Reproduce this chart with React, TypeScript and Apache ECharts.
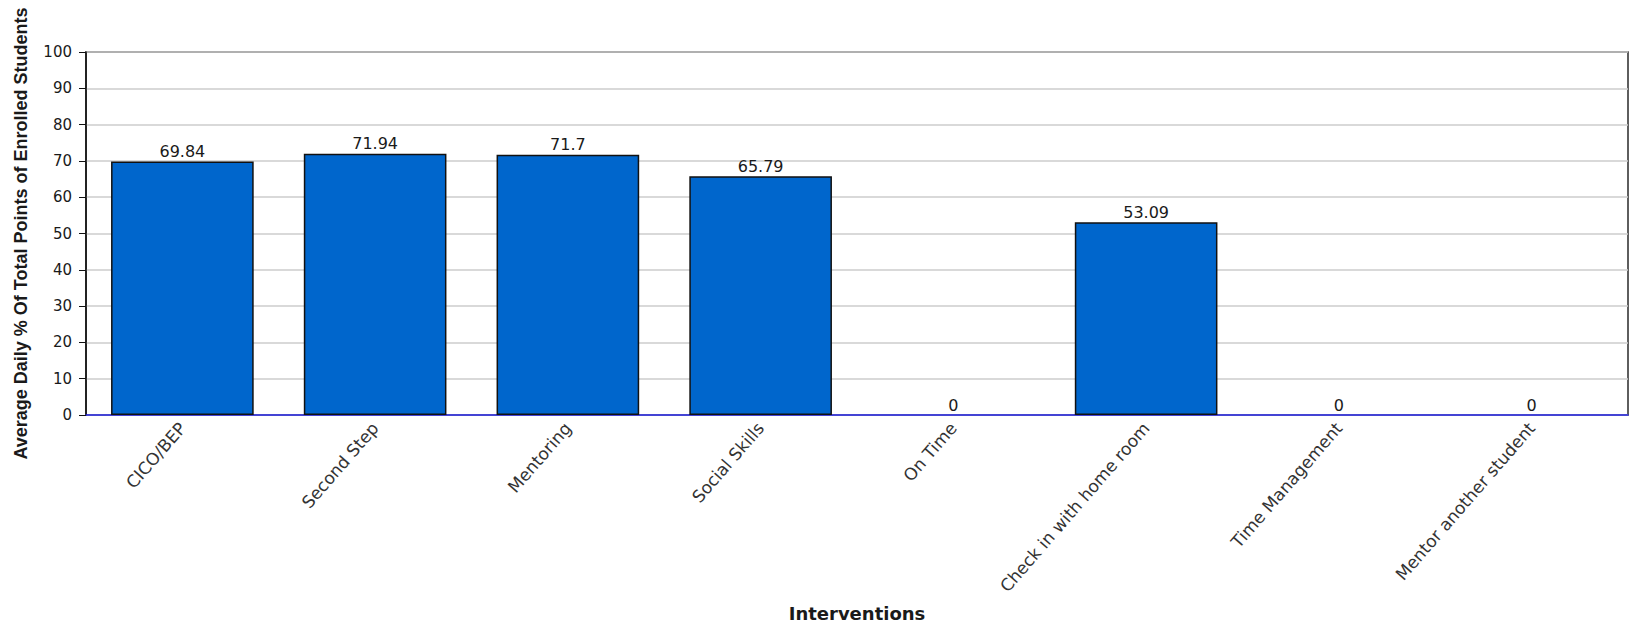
import React, { useEffect, useRef } from "react";
import * as echarts from "echarts";

const categories = [
  "CICO/BEP",
  "Second Step",
  "Mentoring",
  "Social Skills",
  "On Time",
  "Check in with home room",
  "Time Management",
  "Mentor another student",
];
const averages = [69.84, 71.94, 71.7, 65.79, 0, 53.09, 0, 0];
const yTicks = [0, 10, 20, 30, 40, 50, 60, 70, 80, 90, 100];

const yTitle = "Average Daily % Of Total Points of Enrolled Students";
const xTitle = "Interventions";

export default function App() {
  const ref = useRef<HTMLDivElement>(null);

  useEffect(() => {
    if (!ref.current) return;
    const chart = echarts.init(ref.current, undefined, { renderer: "svg" });
    chart.setOption({
      animation: false,
      backgroundColor: "#ffffff",
      grid: {
        left: 86,
        top: 52,
        right: 5,
        bottom: 210,
        show: true,
        borderColor: "#2a2a2a",
        borderWidth: 1.5,
      },
      xAxis: {
        type: "category",
        data: categories,
        name: xTitle,
        nameLocation: "middle",
        nameGap: 189,
        nameTextStyle: {
          fontFamily: "DejaVu Sans",
          fontWeight: "bold",
          fontSize: 18,
          color: "#1a1a1a",
        },
        axisLine: { lineStyle: { color: "#2020e0", width: 1.5 } },
        axisTick: {
          alignWithLabel: true,
          length: 5,
          lineStyle: { color: "#2020e0", width: 1.5 },
        },
        axisLabel: {
          rotate: 49,
          margin: 10,
          interval: 0,
          fontFamily: "DejaVu Sans",
          fontSize: 17,
          color: "#333333",
        },
      },
      yAxis: {
        type: "value",
        min: yTicks[0],
        max: yTicks[yTicks.length - 1],
        interval: yTicks[1] - yTicks[0],
        name: yTitle,
        nameLocation: "middle",
        nameRotate: 90,
        nameGap: 56,
        nameTextStyle: {
          fontFamily: "Liberation Sans",
          fontWeight: "bold",
          fontSize: 18,
          color: "#1a1a1a",
        },
        axisLine: { show: true, lineStyle: { color: "#111111", width: 1.5 } },
        axisTick: { show: true, length: 7, lineStyle: { color: "#111111", width: 1 } },
        axisLabel: {
          margin: 14,
          fontFamily: "DejaVu Sans",
          fontSize: 15,
          color: "#1a1a1a",
        },
        splitLine: { lineStyle: { color: "#cccccc", width: 1.5 } },
      },
      series: [
        {
          type: "bar",
          barCategoryGap: "26%",
          data: averages.map((v) => ({
            value: v,
            itemStyle: v === 0 ? { borderWidth: 0 } : undefined,
          })),
          itemStyle: {
            color: "#0066cc",
            borderColor: "#111111",
            borderWidth: 1.5,
          },
          label: {
            show: true,
            position: "top",
            distance: 2,
            fontFamily: "DejaVu Sans",
            fontSize: 16,
            color: "#1a1a1a",
          },
        },
      ],
    });
    return () => chart.dispose();
  }, []);

  return (
    <div
      ref={ref}
      style={{ position: "fixed", left: 0, top: 0, width: 1633, height: 627 }}
    />
  );
}
